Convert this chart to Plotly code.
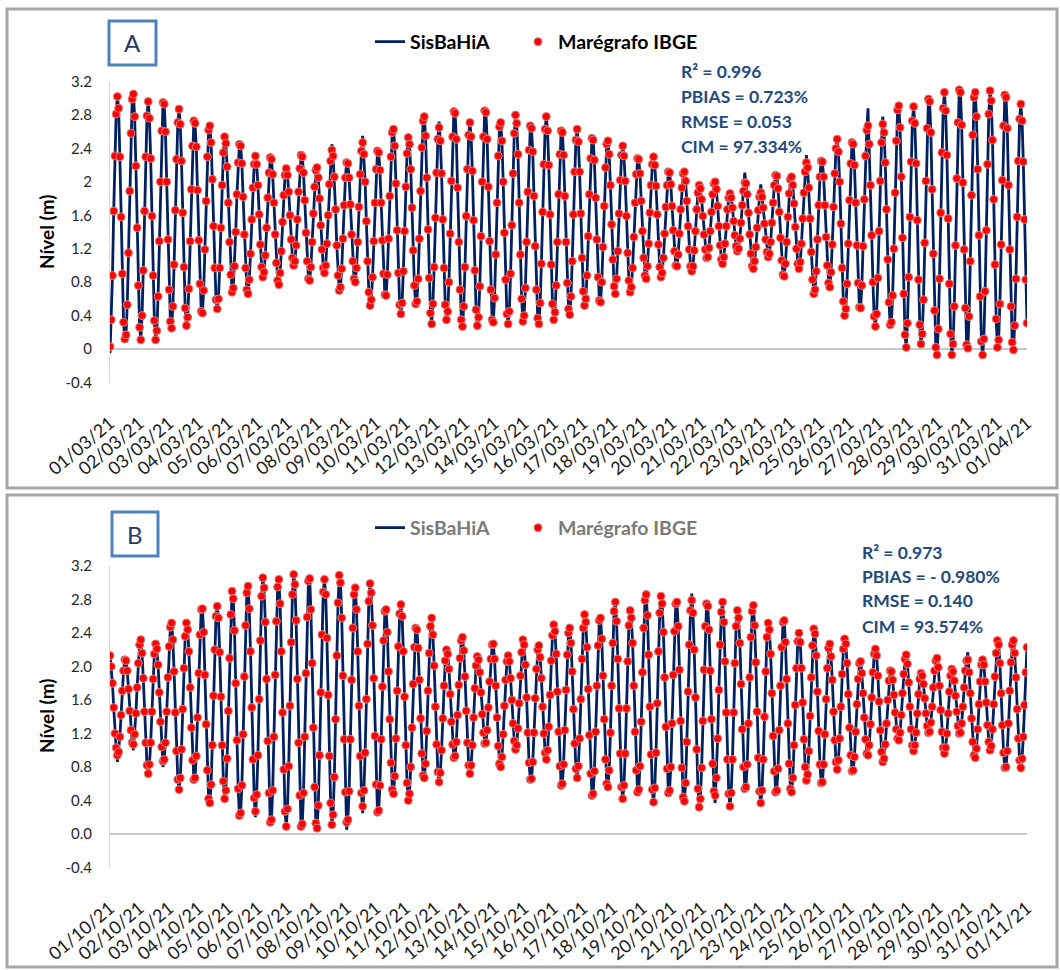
import plotly.graph_objects as go

# ── Cores / fontes ──────────────────────────────────────────────────────────────
FONT = "Lato, 'Open Sans', sans-serif"
NAVY = "#002060"
RED = "#ff0000"
STAT_BLUE = "#234a7c"
W, H = 1060, 970

# ── Dados: nível horário (m) do marégrafo, um ciclo de maré por linha ────────────
# Painel A – março/2021
nivel_mar = [
    0.03, 0.35, 0.88, 1.65, 2.31, 2.81, 3.02, 2.88, 2.30, 1.58, 0.90, 0.32, 0.12,
    0.17, 0.53, 1.15, 1.89, 2.58, 2.99, 3.05, 2.78, 2.19, 1.45, 0.76, 0.26,
    0.11, 0.40, 0.94, 1.65, 2.30, 2.79, 2.96, 2.76, 2.28, 1.59, 0.88, 0.34, 0.11,
    0.22, 0.63, 1.29, 2.00, 2.61, 2.95, 2.93, 2.60, 2.00, 1.31, 0.71, 0.33,
    0.25, 0.51, 1.01, 1.66, 2.27, 2.71, 2.87, 2.69, 2.25, 1.63, 0.98, 0.49, 0.28,
    0.38, 0.72, 1.29, 1.91, 2.43, 2.73, 2.70, 2.42, 1.90, 1.30, 0.78, 0.45,
    0.43, 0.70, 1.19, 1.77, 2.30, 2.62, 2.67, 2.47, 2.03, 1.47, 0.97, 0.59,
    0.48, 0.60, 0.97, 1.45, 1.96, 2.35, 2.54, 2.46, 2.18, 1.75, 1.28, 0.89, 0.68,
    0.73, 0.99, 1.40, 1.85, 2.23, 2.45, 2.43, 2.22, 1.82, 1.37, 0.97, 0.71,
    0.66, 0.83, 1.14, 1.55, 1.93, 2.21, 2.31, 2.21, 1.96, 1.61, 1.25, 0.98, 0.86,
    0.92, 1.12, 1.45, 1.81, 2.11, 2.29, 2.27, 2.09, 1.75, 1.37, 1.03, 0.82,
    0.77, 0.91, 1.17, 1.52, 1.84, 2.08, 2.16, 2.08, 1.88, 1.60, 1.31, 1.09, 1.00,
    1.05, 1.24, 1.55, 1.88, 2.16, 2.32, 2.30, 2.11, 1.78, 1.39, 1.05, 0.84,
    0.82, 0.98, 1.28, 1.62, 1.94, 2.14, 2.17, 2.05, 1.80, 1.48, 1.19, 0.97,
    0.91, 1.00, 1.26, 1.60, 1.97, 2.25, 2.38, 2.31, 2.06, 1.67, 1.24, 0.88, 0.70,
    0.74, 0.96, 1.32, 1.72, 2.05, 2.23, 2.22, 2.05, 1.73, 1.37, 1.05, 0.84,
    0.80, 0.97, 1.28, 1.70, 2.09, 2.37, 2.47, 2.33, 2.00, 1.53, 1.05, 0.68, 0.52,
    0.59, 0.86, 1.29, 1.75, 2.15, 2.37, 2.35, 2.14, 1.75, 1.30, 0.90, 0.65,
    0.64, 0.89, 1.32, 1.83, 2.30, 2.59, 2.63, 2.43, 1.98, 1.42, 0.91, 0.53,
    0.42, 0.55, 0.93, 1.41, 1.94, 2.34, 2.53, 2.45, 2.15, 1.69, 1.18, 0.76, 0.54,
    0.57, 0.84, 1.32, 1.89, 2.41, 2.73, 2.78, 2.55, 2.05, 1.43, 0.85, 0.43,
    0.30, 0.54, 0.98, 1.57, 2.11, 2.51, 2.65, 2.49, 2.10, 1.55, 0.97, 0.53, 0.35,
    0.45, 0.80, 1.38, 2.01, 2.54, 2.84, 2.82, 2.51, 1.93, 1.28, 0.71, 0.35,
    0.27, 0.51, 0.98, 1.59, 2.15, 2.56, 2.71, 2.54, 2.13, 1.54, 0.94, 0.47, 0.28,
    0.38, 0.75, 1.35, 2.00, 2.54, 2.85, 2.83, 2.51, 1.94, 1.29, 0.71, 0.35,
    0.32, 0.61, 1.13, 1.75, 2.31, 2.66, 2.71, 2.49, 2.00, 1.39, 0.83, 0.42,
    0.30, 0.45, 0.90, 1.48, 2.10, 2.58, 2.80, 2.70, 2.33, 1.75, 1.13, 0.60, 0.33,
    0.40, 0.73, 1.28, 1.88, 2.38, 2.67, 2.64, 2.36, 1.83, 1.23, 0.71, 0.37,
    0.30, 0.55, 1.02, 1.64, 2.21, 2.63, 2.78, 2.61, 2.20, 1.61, 1.01, 0.54, 0.35,
    0.44, 0.76, 1.28, 1.85, 2.33, 2.61, 2.59, 2.32, 1.83, 1.28, 0.79, 0.48,
    0.41, 0.63, 1.05, 1.61, 2.12, 2.50, 2.63, 2.48, 2.12, 1.62, 1.09, 0.69, 0.52,
    0.60, 0.88, 1.35, 1.85, 2.28, 2.52, 2.50, 2.26, 1.81, 1.31, 0.86, 0.58,
    0.56, 0.80, 1.22, 1.71, 2.17, 2.45, 2.49, 2.33, 1.96, 1.49, 1.07, 0.75,
    0.66, 0.84, 1.17, 1.62, 2.02, 2.32, 2.43, 2.31, 2.01, 1.59, 1.15, 0.82, 0.68,
    0.74, 0.97, 1.34, 1.75, 2.09, 2.28, 2.27, 2.10, 1.77, 1.41, 1.09, 0.88,
    0.84, 0.99, 1.26, 1.63, 1.96, 2.21, 2.30, 2.20, 1.95, 1.61, 1.25, 0.98, 0.86,
    0.91, 1.09, 1.38, 1.70, 1.96, 2.12, 2.11, 1.97, 1.71, 1.42, 1.17, 1.00,
    0.99, 1.13, 1.38, 1.67, 1.93, 2.10, 2.12, 2.01, 1.77, 1.47, 1.19, 0.99,
    0.93, 0.99, 1.18, 1.41, 1.67, 1.87, 1.96, 1.92, 1.79, 1.59, 1.37, 1.19, 1.09,
    1.10, 1.21, 1.41, 1.64, 1.85, 1.98, 2.00, 1.91, 1.71, 1.47, 1.24, 1.07,
    1.02, 1.10, 1.26, 1.47, 1.67, 1.81, 1.86, 1.81, 1.69, 1.53, 1.36, 1.23, 1.17,
    1.20, 1.32, 1.51, 1.72, 1.89, 1.99, 1.98, 1.85, 1.63, 1.37, 1.14, 0.99,
    0.96, 1.05, 1.22, 1.45, 1.66, 1.82, 1.87, 1.82, 1.69, 1.50, 1.31, 1.16, 1.10,
    1.14, 1.28, 1.51, 1.75, 1.96, 2.08, 2.07, 1.92, 1.64, 1.33, 1.06, 0.89,
    0.87, 1.02, 1.28, 1.58, 1.86, 2.03, 2.06, 1.96, 1.74, 1.46, 1.20, 1.02,
    0.96, 1.04, 1.26, 1.56, 1.87, 2.12, 2.23, 2.17, 1.93, 1.56, 1.16, 0.83, 0.66,
    0.71, 0.93, 1.31, 1.72, 2.06, 2.25, 2.24, 2.06, 1.72, 1.34, 1.00, 0.79,
    0.74, 0.92, 1.25, 1.70, 2.10, 2.40, 2.51, 2.36, 2.00, 1.50, 0.97, 0.57, 0.40,
    0.48, 0.78, 1.26, 1.78, 2.22, 2.47, 2.45, 2.20, 1.75, 1.24, 0.79, 0.50,
    0.49, 0.76, 1.23, 1.79, 2.31, 2.62, 2.67, 2.45, 1.96, 1.36, 0.80, 0.39,
    0.27, 0.42, 0.85, 1.41, 2.01, 2.47, 2.69, 2.59, 2.23, 1.67, 1.07, 0.56, 0.29,
    0.32, 0.64, 1.20, 1.87, 2.49, 2.86, 2.91, 2.65, 2.06, 1.33, 0.66, 0.17,
    0.02, 0.31, 0.86, 1.58, 2.24, 2.73, 2.90, 2.70, 2.22, 1.54, 0.83, 0.29, 0.06,
    0.18, 0.59, 1.27, 2.01, 2.64, 2.99, 2.96, 2.59, 1.91, 1.14, 0.46, 0.02,
    -0.07, 0.24, 0.84, 1.63, 2.35, 2.88, 3.07, 2.85, 2.32, 1.56, 0.78, 0.18, -0.07,
    0.06, 0.51, 1.24, 2.04, 2.71, 3.10, 3.07, 2.68, 1.99, 1.19, 0.49, 0.05,
    0.01, 0.39, 1.05, 1.84, 2.56, 3.01, 3.07, 2.78, 2.15, 1.36, 0.63, 0.09,
    -0.07, 0.12, 0.69, 1.42, 2.21, 2.81, 3.09, 2.97, 2.50, 1.79, 1.01, 0.36, 0.02,
    0.11, 0.54, 1.25, 2.02, 2.67, 3.04, 3.01, 2.64, 1.96, 1.19, 0.51, 0.08,
    -0.01, 0.28, 0.84, 1.58, 2.25, 2.75, 2.93, 2.73, 2.24, 1.55, 0.83, 0.31,
]

# Painel B – outubro/2021
nivel_out = [
    2.13, 2.00, 1.80, 1.51, 1.20, 1.03, 0.94, 0.98, 1.16, 1.42, 1.71, 1.95, 2.08,
    2.07, 1.95, 1.73, 1.47, 1.24, 1.09, 1.07, 1.19, 1.44, 1.75, 2.04, 2.26,
    2.32, 2.16, 1.86, 1.46, 1.09, 0.82, 0.72, 0.83, 1.09, 1.46, 1.85, 2.15, 2.27,
    2.21, 2.02, 1.69, 1.34, 1.04, 0.87, 0.89, 1.09, 1.46, 1.87, 2.24, 2.47,
    2.52, 2.32, 1.94, 1.45, 0.99, 0.65, 0.53, 0.67, 1.01, 1.49, 1.98, 2.36, 2.52,
    2.44, 2.18, 1.75, 1.27, 0.88, 0.65, 0.67, 0.93, 1.39, 1.92, 2.38, 2.68,
    2.69, 2.41, 1.90, 1.31, 0.76, 0.42, 0.37, 0.59, 1.06, 1.65, 2.20, 2.60,
    2.72, 2.58, 2.17, 1.64, 1.06, 0.63, 0.42, 0.52, 0.90, 1.47, 2.10, 2.62, 2.90,
    2.81, 2.43, 1.80, 1.12, 0.54, 0.22, 0.25, 0.58, 1.19, 1.88, 2.49, 2.88,
    2.96, 2.69, 2.18, 1.51, 0.89, 0.43, 0.27, 0.47, 0.94, 1.61, 2.31, 2.84, 3.06,
    2.94, 2.53, 1.85, 1.11, 0.49, 0.14, 0.17, 0.52, 1.16, 1.90, 2.54, 2.95,
    3.04, 2.75, 2.18, 1.45, 0.77, 0.27, 0.09, 0.30, 0.81, 1.53, 2.29, 2.86, 3.10,
    2.98, 2.55, 1.85, 1.09, 0.46, 0.09, 0.12, 0.49, 1.16, 1.92, 2.59, 3.02,
    3.05, 2.68, 2.04, 1.27, 0.56, 0.13, 0.07, 0.34, 0.94, 1.69, 2.38, 2.89,
    3.04, 2.86, 2.34, 1.66, 0.93, 0.37, 0.11, 0.23, 0.68, 1.37, 2.13, 2.76, 3.09,
    3.00, 2.58, 1.89, 1.13, 0.50, 0.14, 0.17, 0.51, 1.13, 1.84, 2.46, 2.86,
    2.94, 2.68, 2.18, 1.53, 0.93, 0.49, 0.33, 0.52, 0.97, 1.61, 2.27, 2.78, 2.99,
    2.88, 2.49, 1.86, 1.17, 0.59, 0.26, 0.28, 0.58, 1.13, 1.76, 2.31, 2.66,
    2.68, 2.41, 1.94, 1.37, 0.85, 0.53, 0.48, 0.69, 1.14, 1.71, 2.24, 2.63,
    2.74, 2.60, 2.18, 1.64, 1.06, 0.61, 0.40, 0.48, 0.80, 1.27, 1.79, 2.23, 2.46,
    2.44, 2.22, 1.84, 1.38, 0.96, 0.70, 0.67, 0.84, 1.23, 1.71, 2.16, 2.48,
    2.58, 2.38, 2.01, 1.52, 1.07, 0.74, 0.62, 0.73, 1.00, 1.38, 1.77, 2.07, 2.20,
    2.15, 1.97, 1.67, 1.34, 1.07, 0.91, 0.93, 1.10, 1.42, 1.78, 2.10, 2.31,
    2.35, 2.19, 1.88, 1.47, 1.09, 0.82, 0.72, 0.82, 1.06, 1.39, 1.74, 2.01, 2.12,
    2.08, 1.93, 1.69, 1.43, 1.21, 1.08, 1.09, 1.24, 1.51, 1.82, 2.09, 2.26,
    2.27, 2.09, 1.77, 1.39, 1.05, 0.84, 0.80, 0.92, 1.19, 1.53, 1.84, 2.06,
    2.13, 2.06, 1.86, 1.60, 1.32, 1.11, 1.01, 1.06, 1.26, 1.56, 1.89, 2.17, 2.32,
    2.26, 2.02, 1.63, 1.21, 0.85, 0.65, 0.66, 0.86, 1.21, 1.62, 1.97, 2.20,
    2.25, 2.11, 1.86, 1.52, 1.20, 0.97, 0.89, 1.00, 1.28, 1.66, 2.07, 2.37, 2.50,
    2.42, 2.15, 1.70, 1.22, 0.81, 0.58, 0.60, 0.83, 1.24, 1.72, 2.14, 2.40,
    2.46, 2.28, 1.94, 1.49, 1.08, 0.78, 0.67, 0.81, 1.14, 1.61, 2.09, 2.46, 2.62,
    2.53, 2.23, 1.73, 1.18, 0.72, 0.46, 0.48, 0.75, 1.22, 1.77, 2.25, 2.55,
    2.58, 2.33, 1.89, 1.37, 0.89, 0.60, 0.56, 0.76, 1.21, 1.77, 2.28, 2.66,
    2.77, 2.54, 2.09, 1.50, 0.96, 0.56, 0.42, 0.58, 0.96, 1.50, 2.06, 2.49, 2.67,
    2.58, 2.28, 1.77, 1.22, 0.76, 0.50, 0.53, 0.81, 1.34, 1.93, 2.46, 2.79,
    2.86, 2.61, 2.14, 1.52, 0.95, 0.53, 0.38, 0.55, 0.97, 1.56, 2.18, 2.64, 2.84,
    2.75, 2.41, 1.87, 1.28, 0.78, 0.49, 0.52, 0.80, 1.32, 1.90, 2.42, 2.75,
    2.77, 2.48, 1.96, 1.35, 0.79, 0.44, 0.39, 0.61, 1.10, 1.70, 2.26, 2.67,
    2.79, 2.64, 2.20, 1.63, 1.01, 0.54, 0.32, 0.42, 0.79, 1.35, 1.96, 2.48, 2.75,
    2.72, 2.44, 1.95, 1.37, 0.84, 0.51, 0.46, 0.67, 1.14, 1.72, 2.26, 2.65,
    2.77, 2.53, 2.06, 1.45, 0.89, 0.48, 0.33, 0.49, 0.89, 1.45, 2.04, 2.48, 2.67,
    2.58, 2.28, 1.79, 1.25, 0.80, 0.54, 0.56, 0.83, 1.32, 1.87, 2.35, 2.66,
    2.73, 2.49, 2.05, 1.46, 0.91, 0.51, 0.37, 0.52, 0.89, 1.40, 1.94, 2.35, 2.52,
    2.44, 2.15, 1.68, 1.17, 0.75, 0.50, 0.52, 0.78, 1.24, 1.77, 2.23, 2.53,
    2.55, 2.29, 1.85, 1.32, 0.84, 0.54, 0.50, 0.67, 1.06, 1.54, 1.98, 2.30,
    2.40, 2.29, 1.98, 1.57, 1.13, 0.80, 0.64, 0.71, 0.99, 1.41, 1.87, 2.25, 2.45,
    2.39, 2.13, 1.70, 1.23, 0.83, 0.61, 0.62, 0.83, 1.19, 1.61, 1.98, 2.22,
    2.27, 2.12, 1.84, 1.46, 1.12, 0.86, 0.77, 0.88, 1.14, 1.52, 1.91, 2.21, 2.33,
    2.27, 2.04, 1.67, 1.27, 0.94, 0.75, 0.76, 0.92, 1.22, 1.55, 1.85, 2.04,
    2.06, 1.92, 1.68, 1.39, 1.13, 0.96, 0.94, 1.06, 1.31, 1.63, 1.93, 2.15,
    2.21, 2.13, 1.89, 1.58, 1.24, 0.98, 0.86, 0.90, 1.07, 1.32, 1.60, 1.83, 1.95,
    1.94, 1.84, 1.66, 1.45, 1.25, 1.14, 1.12, 1.21, 1.42, 1.68, 1.91, 2.09,
    2.14, 2.03, 1.81, 1.52, 1.25, 1.06, 0.99, 1.06, 1.21, 1.44, 1.67, 1.85, 1.92,
    1.89, 1.79, 1.62, 1.44, 1.29, 1.21, 1.22, 1.33, 1.52, 1.75, 1.95, 2.07,
    2.10, 1.99, 1.77, 1.48, 1.22, 1.03, 0.96, 1.03, 1.20, 1.44, 1.70, 1.89, 1.97,
    1.94, 1.83, 1.65, 1.46, 1.29, 1.20, 1.21, 1.32, 1.52, 1.75, 1.95, 2.07,
    2.08, 1.93, 1.68, 1.38, 1.10, 0.94, 0.91, 1.02, 1.25, 1.55, 1.82, 2.02,
    2.08, 2.02, 1.82, 1.57, 1.30, 1.10, 1.00, 1.05, 1.25, 1.55, 1.88, 2.16, 2.31,
    2.26, 2.04, 1.68, 1.30, 0.97, 0.79, 0.80, 0.99, 1.32, 1.71, 2.05, 2.26,
    2.31, 2.16, 1.87, 1.49, 1.14, 0.88, 0.79, 0.90, 1.16, 1.54, 1.93, 2.23,
]

# SisBaHiA: segue o marégrafo, exceto nos picos/cavados onde a linha se afasta
# dos pontos no gráfico original (hora -> nível do modelo)
desvio_modelo_mar = {0: -0.05, 180: 2.45, 205: 2.55, 267: 2.72, 515: 2.11,
                     528: 1.97, 565: 2.32, 615: 2.88, 627: 2.78}
desvio_modelo_out = {6: 0.86, 19: 1.00, 43: 0.80, 118: 0.20, 192: 0.05,
                     205: 0.25, 472: 2.87, 491: 0.37, 696: 2.17, 739: 0.74}

modelo_mar = [desvio_modelo_mar.get(i, v) for i, v in enumerate(nivel_mar)]
modelo_out = [desvio_modelo_out.get(i, v) for i, v in enumerate(nivel_out)]

horas_mar = list(range(len(nivel_mar)))
horas_out = list(range(len(nivel_out)))

dias_mar = [f"{d:02d}/03/21" for d in range(1, 32)] + ["01/04/21"]
dias_out = [f"{d:02d}/10/21" for d in range(1, 32)] + ["01/11/21"]
ticks_dias = [24 * i for i in range(32)]

ticks_nivel = [-0.4, 0, 0.4, 0.8, 1.2, 1.6, 2, 2.4, 2.8, 3.2]
rot_nivel_a = ["-0.4", "0", "0.4", "0.8", "1.2", "1.6", "2", "2.4", "2.8", "3.2"]
rot_nivel_b = ["-0.4", "0.0", "0.4", "0.8", "1.2", "1.6", "2.0", "2.4", "2.8", "3.2"]

stats_a = ["R² = 0.996", "PBIAS = 0.723%", "RMSE = 0.053", "CIM = 97.334%"]
stats_b = ["R² = 0.973", "PBIAS = - 0.980%", "RMSE = 0.140", "CIM = 93.574%"]


def px_x(x):
    return x / W


def px_y(y):
    return 1 - y / H


fig = go.Figure()

panels = [
    ("x", "y", "legend", horas_mar, modelo_mar, nivel_mar),
    ("x2", "y2", "legend2", horas_out, modelo_out, nivel_out),
]
for xa, ya, leg, xs, mod, obs in panels:
    fig.add_trace(go.Scatter(
        x=xs, y=mod, mode="lines", name="SisBaHiA", legendwidth=103,
        line=dict(color=NAVY, width=2.8),
        xaxis=xa, yaxis=ya, legend=leg, hoverinfo="skip"))
    fig.add_trace(go.Scatter(
        x=xs, y=obs, mode="markers", name="Marégrafo IBGE",
        marker=dict(color=RED, size=8, line=dict(color="#d98080", width=1)),
        xaxis=xa, yaxis=ya, legend=leg, hoverinfo="skip"))

x_dom = [px_x(110), px_x(1027)]
xcommon = dict(range=[0, 744], tickvals=ticks_dias, tickangle=-40,
               showgrid=False, zeroline=False, showline=False, ticks="",
               ticklabelstandoff=26, automargin=False,
               tickfont=dict(family=FONT, size=18, color="#1a1a1a"))
ycommon = dict(range=[-0.4, 3.2], tickvals=ticks_nivel, showgrid=False,
               zeroline=True, zerolinecolor="#c8c8c8", zerolinewidth=1.5,
               showline=True, linecolor="#d9d9d9", linewidth=1, ticks="",
               ticklabelstandoff=14, automargin=False,
               tickfont=dict(family=FONT, size=15, color="#262626"))

leg_font = dict(family=FONT, size=19.5, weight="bold")
fig.update_layout(
    width=W, height=H, autosize=False,
    margin=dict(l=0, r=0, t=0, b=0, pad=0),
    paper_bgcolor="white", plot_bgcolor="white",
    xaxis=dict(domain=x_dom, anchor="y", ticktext=dias_mar, **xcommon),
    yaxis=dict(domain=[px_y(382.5), px_y(81.5)], anchor="x",
               ticktext=rot_nivel_a, **ycommon),
    xaxis2=dict(domain=x_dom, anchor="y2", ticktext=dias_out, **xcommon),
    yaxis2=dict(domain=[px_y(867.5), px_y(566)], anchor="x2",
                ticktext=rot_nivel_b, **ycommon),
    legend=dict(orientation="h", x=px_x(370), y=px_y(42), xanchor="left",
                yanchor="middle", bgcolor="rgba(0,0,0,0)",
                font=dict(color="#000000", **leg_font)),
    legend2=dict(orientation="h", x=px_x(370), y=px_y(528), xanchor="left",
                 yanchor="middle", bgcolor="rgba(0,0,0,0)",
                 font=dict(color="#7a7a7a", **leg_font)),
)

# Bordas dos painéis e caixas das letras
shapes = [
    dict(type="rect", xref="paper", yref="paper", x0=px_x(7), x1=px_x(1057),
         y0=px_y(488), y1=px_y(9), line=dict(color="#a6a6a6", width=3)),
    dict(type="rect", xref="paper", yref="paper", x0=px_x(7), x1=px_x(1057),
         y0=px_y(967), y1=px_y(495), line=dict(color="#a6a6a6", width=3)),
    dict(type="rect", xref="paper", yref="paper", x0=px_x(109), x1=px_x(156),
         y0=px_y(65), y1=px_y(21), line=dict(color="#4f81bd", width=3)),
    dict(type="rect", xref="paper", yref="paper", x0=px_x(112), x1=px_x(158),
         y0=px_y(556), y1=px_y(512), line=dict(color="#4f81bd", width=3)),
]
fig.update_layout(shapes=shapes)

ann = [
    dict(text="A", x=px_x(132.5), y=px_y(43), font=dict(family=FONT, size=24, color="#1f3a68")),
    dict(text="B", x=px_x(135), y=px_y(534), font=dict(family=FONT, size=24, color="#1f3a68")),
    dict(text="Nível (m)", x=px_x(46), y=px_y(232), textangle=-90,
         font=dict(family=FONT, size=19, color="#000000", weight="bold")),
    dict(text="Nível (m)", x=px_x(46), y=px_y(716), textangle=-90,
         font=dict(family=FONT, size=19, color="#000000", weight="bold")),
]
for txt, yy in zip(stats_a, [72, 97, 121, 146]):
    ann.append(dict(text=txt, x=px_x(679), y=px_y(yy), xanchor="left",
                    font=dict(family=FONT, size=17.5, color=STAT_BLUE, weight="bold")))
for txt, yy in zip(stats_b, [552, 576, 600, 626]):
    ann.append(dict(text=txt, x=px_x(860), y=px_y(yy), xanchor="left",
                    font=dict(family=FONT, size=17.5, color=STAT_BLUE, weight="bold")))
for a in ann:
    a.update(xref="paper", yref="paper", showarrow=False)
    a.setdefault("xanchor", "center")
    a.setdefault("yanchor", "middle")
fig.update_layout(annotations=ann)

fig.write_html("out.html", config={"displayModeBar": False},
               post_script="document.body.style.margin='0';document.body.style.overflow='hidden';")
